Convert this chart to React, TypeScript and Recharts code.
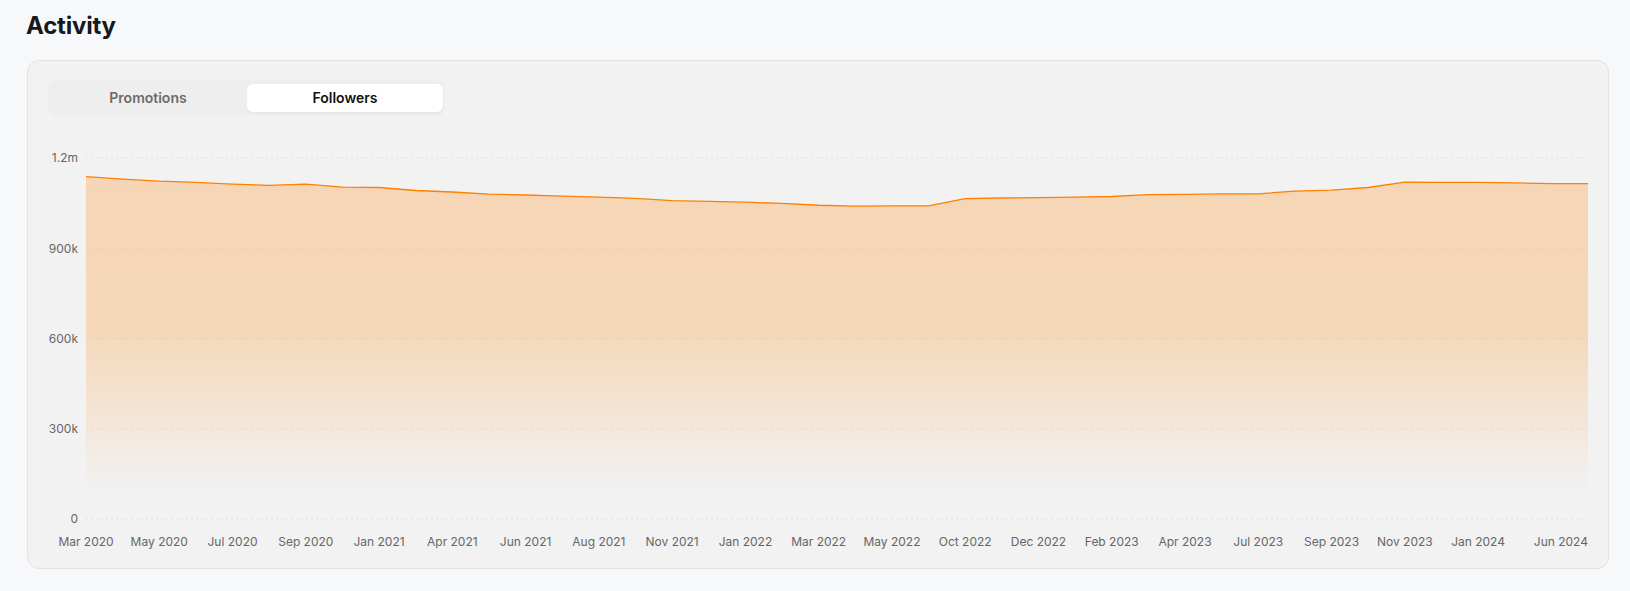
import React from "react";
import { AreaChart, Area, XAxis, YAxis, CartesianGrid } from "recharts";

const months: string[] = [
  "Mar 2020", "Apr 2020", "May 2020", "Jun 2020", "Jul 2020", "Aug 2020", "Sep 2020", "Nov 2020",
  "Jan 2021", "Mar 2021", "Apr 2021", "May 2021", "Jun 2021", "Jul 2021", "Aug 2021", "Oct 2021",
  "Nov 2021", "Dec 2021", "Jan 2022", "Feb 2022", "Mar 2022", "Apr 2022", "May 2022", "Aug 2022",
  "Oct 2022", "Nov 2022", "Dec 2022", "Jan 2023", "Feb 2023", "Mar 2023", "Apr 2023", "May 2023",
  "Jul 2023", "Aug 2023", "Sep 2023", "Oct 2023", "Nov 2023", "Dec 2023", "Jan 2024", "Mar 2024",
  "Apr 2024", "Jun 2024",
];

const followers: number[] = [
  1138000, 1130000, 1123000, 1119000, 1113000, 1109000, 1113000, 1103000,
  1102000, 1092000, 1087000, 1080000, 1077000, 1073000, 1070000, 1066000,
  1058000, 1056000, 1053000, 1049000, 1043000, 1040000, 1041000, 1041000,
  1065000, 1067000, 1068000, 1070000, 1072000, 1078000, 1079000, 1081000,
  1081000, 1090000, 1093000, 1102000, 1120000, 1119000, 1119000, 1117000,
  1115000, 1115000,
];

const yTicks: number[] = [0, 300000, 600000, 900000, 1200000];

const tabs: string[] = ["Promotions", "Followers"];

const data = months.map((m, i) => ({ month: m, followers: followers[i] }));

const fmtY = (v: number) => {
  if (v === 0) return "0";
  if (v >= 1000000) return `${v / 1000000}m`;
  return `${v / 1000}k`;
};

const FONT = "Inter, 'Noto Sans', sans-serif";

if (typeof document !== "undefined" && document.body) {
  document.body.style.fontFamily = FONT;
}

export default function App() {
  return (
    <div
      style={{
        position: "fixed",
        left: 0,
        top: 0,
        width: 1630,
        height: 591,
        background: "#f7f8fa",
        fontFamily: FONT,
        overflow: "hidden",
      }}
    >
      <div
        style={{
          position: "absolute",
          left: 26,
          top: 12,
          fontSize: 24,
          fontWeight: 700,
          color: "#16181d",
          lineHeight: "28px",
          letterSpacing: -0.2,
        }}
      >
        Activity
      </div>
      <div
        style={{
          position: "absolute",
          left: 27,
          top: 60,
          width: 1582,
          height: 509,
          boxSizing: "border-box",
          border: "1px solid #e2e2e4",
          borderRadius: 12,
          background: "#f2f2f2",
        }}
      />
      <div
        style={{
          position: "absolute",
          left: 48,
          top: 80,
          width: 397,
          height: 36,
          borderRadius: 8,
          background: "#eeeeee",
        }}
      />
      <div
        style={{
          position: "absolute",
          left: 247,
          top: 84,
          width: 196,
          height: 28,
          borderRadius: 6,
          background: "#ffffff",
          boxShadow: "0 1px 2px rgba(0,0,0,0.05)",
        }}
      />
      {tabs.map((t, i) => (
        <div
          key={t}
          style={{
            position: "absolute",
            left: i === 0 ? 50 : 247,
            top: 84,
            width: 196,
            height: 28,
            lineHeight: "28px",
            textAlign: "center",
            fontSize: 14,
            fontWeight: 600,
            color: i === 0 ? "#6b6b6b" : "#111111",
          }}
        >
          {t}
        </div>
      ))}
      <div style={{ position: "absolute", left: 27, top: 141 }}>
        <AreaChart
          width={1561}
          height={418}
          data={data}
          margin={{ top: 17, right: 0, bottom: 0, left: 0 }}
          style={{ overflow: "visible" }}
        >
          <defs>
            <linearGradient id="fillFollowers" x1="0" y1="0" x2="0" y2="1">
              <stop offset="0%" stopColor="#ff8000" stopOpacity={0.25} />
              <stop offset="45%" stopColor="#ff8000" stopOpacity={0.23} />
              <stop offset="75%" stopColor="#ff8000" stopOpacity={0.09} />
              <stop offset="92%" stopColor="#ff8000" stopOpacity={0} />
              <stop offset="100%" stopColor="#ff8000" stopOpacity={0} />
            </linearGradient>
          </defs>
          <CartesianGrid
            vertical={false}
            stroke="#e1e1e3"
            strokeDasharray="2 3"
          />
          <XAxis
            dataKey="month"
            axisLine={false}
            tickLine={false}
            tickMargin={12}
            height={40}
            interval="preserveStartEnd"
            tick={{ fontSize: 12, fill: "#666666", fontFamily: FONT }}
          />
          <YAxis
            width={59}
            domain={[0, 1200000]}
            ticks={yTicks}
            tickFormatter={fmtY}
            axisLine={false}
            tickLine={false}
            tick={{ fontSize: 12, fill: "#666666", fontFamily: FONT }}
          />
          <Area
            type="linear"
            dataKey="followers"
            stroke="#ff8000"
            strokeWidth={1.3}
            fill="url(#fillFollowers)"
            fillOpacity={1}
            dot={false}
            activeDot={false}
            isAnimationActive={false}
          />
        </AreaChart>
      </div>
    </div>
  );
}
